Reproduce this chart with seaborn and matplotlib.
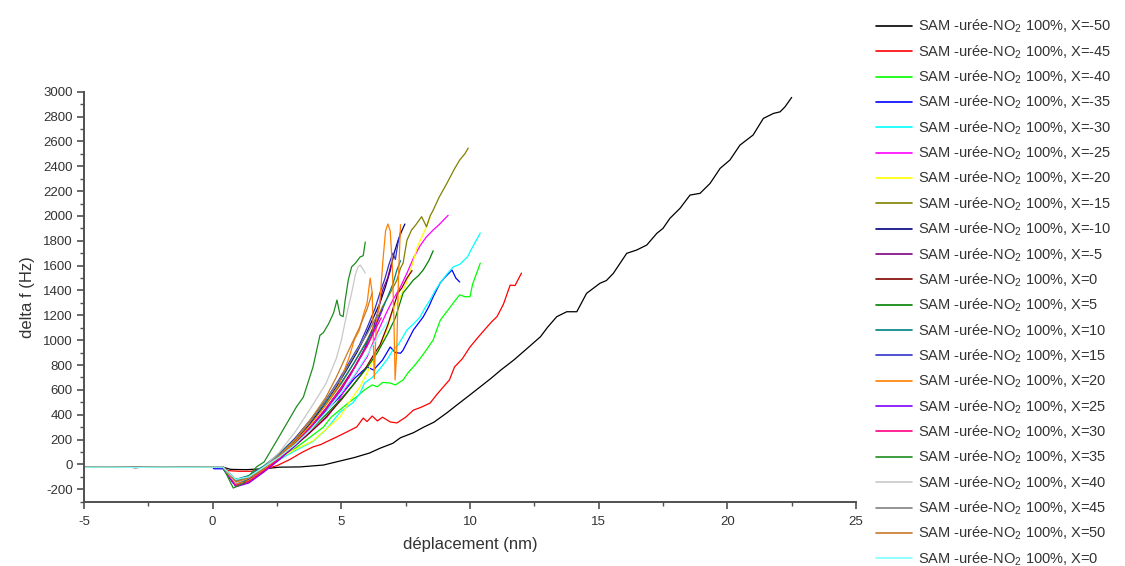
import matplotlib
matplotlib.use("Agg")
import matplotlib.pyplot as plt
from matplotlib.lines import Line2D
from matplotlib.ticker import MultipleLocator
import seaborn as sns
import pandas as pd

# ---------------- data ----------------
X_VALUES = ["-50", "-45", "-40", "-35", "-30", "-25", "-20", "-15", "-10", "-5", "0",
            "5", "10", "15", "20", "25", "30", "35", "40", "45", "50", "0"]
COLORS = ["#000000", "#ff0000", "#00ff00", "#0000ff", "#00ffff", "#ff00ff", "#ffff00",
          "#808000", "#000080", "#800080", "#800000", "#008000", "#008080", "#3131ce",
          "#ff8000", "#8000ff", "#ff0080", "#1e8c1e", "#c8c8c8", "#808080", "#c87828",
          "#80ffff"]

BASE_X = [-5.0, -4.0, -3.0, -2.0, -1.0, 0.0]
BASE_Y = [-23, -22, -24, -22, -23, -22]

X_M50 = [0.4, 0.7, 1.3, 2.0, 2.6, 3.4, 4.3, 4.8, 5.5, 6.1, 6.5, 7.0, 7.3, 7.8, 8.2, 8.6, 9.1,
         9.5, 10.0, 10.4, 10.8, 11.2, 11.7, 12.2, 12.74, 13.0, 13.37, 13.76, 14.15, 14.53,
         15.05, 15.3, 15.57, 16.09, 16.48, 16.87, 17.26, 17.5, 17.77, 18.16, 18.55, 18.94,
         19.33, 19.72, 20.1, 20.49, 21.0, 21.4, 21.79, 22.05, 22.24, 22.5]
Y_M50 = [-22, -40, -42, -35, -22, -20, -5, 20, 55, 92, 130, 170, 215, 255, 300, 340, 415,
         480, 560, 625, 690, 760, 840, 930, 1028, 1100, 1189, 1229, 1229, 1377,
         1458, 1480, 1538, 1699, 1726, 1766, 1860, 1900, 1981, 2061, 2168, 2182,
         2262, 2383, 2450, 2570, 2651, 2785, 2825, 2838, 2878, 2954]

X_M45 = [0.4, 0.6, 1.0, 1.5, 2.0, 2.5, 3.0, 3.5, 3.9, 4.2, 4.5, 4.83, 5.2, 5.6, 5.85, 6.0,
         6.2, 6.4, 6.6, 6.9, 7.16, 7.5, 7.8, 8.1, 8.45, 8.7, 8.96, 9.2, 9.4, 9.7, 10.0,
         10.3, 10.66, 10.85, 11.05, 11.3, 11.56, 11.75, 12.0]
Y_M45 = [-22, -50, -55, -55, -40, -10, 40, 100, 141, 160, 190, 222, 260, 302, 373, 345,
         390, 350, 380, 342, 334, 380, 437, 460, 494, 560, 623, 680, 785, 850, 945,
         1020, 1106, 1150, 1190, 1290, 1443, 1440, 1540]

X_M40 = [0.4, 0.8, 1.2, 1.8, 2.4, 3.0, 3.6, 4.3, 4.6, 4.95, 5.3, 5.6, 5.9, 6.2, 6.4, 6.6,
         6.9, 7.1, 7.4, 7.6, 7.8, 8.05, 8.3, 8.57, 8.7, 8.85, 9.1, 9.35, 9.6, 9.8, 10.0,
         10.1, 10.4]
Y_M40 = [-22, -120, -110, -50, 20, 100, 190, 300, 380, 440, 500, 545, 600, 640, 625, 660,
         655, 640, 680, 740, 785, 850, 920, 1002, 1080, 1163, 1230, 1300, 1365, 1350, 1350,
         1450, 1620]

X_M35 = [0.05, 0.4, 0.8, 1.2, 1.8, 2.4, 3.0, 3.5, 4.0, 4.5, 5.0, 5.5, 6.0, 6.25, 6.6, 6.9,
         7.1, 7.3, 7.4, 7.8, 8.18, 8.4, 8.57, 8.84, 9.0, 9.3, 9.45, 9.6]
Y_M35 = [-35, -35, -150, -130, -60, 20, 120, 230, 340, 450, 560, 690, 785, 760, 840, 945,
         900, 895, 920, 1082, 1187, 1270, 1350, 1460, 1500, 1565, 1500, 1468]

X_M30 = [0.4, 0.8, 1.3, 2.0, 2.6, 3.2, 3.9, 4.4, 4.95, 5.47, 5.73, 5.9, 6.2, 6.5, 6.8, 7.0,
         7.2, 7.55, 7.8, 8.06, 8.25, 8.45, 8.65, 8.84, 9.1, 9.35, 9.6, 9.9, 10.1, 10.4]
Y_M30 = [-22, -140, -120, -40, 40, 110, 185, 280, 420, 500, 575, 655, 700, 770, 850, 920,
         960, 1082, 1130, 1187, 1260, 1323, 1400, 1460, 1530, 1590, 1610, 1670, 1750, 1862]

X_M25 = [0.4, 0.9, 1.4, 2.0, 2.6, 3.2, 3.8, 4.45, 4.8, 5.2, 5.6, 6.0, 6.25, 6.5, 6.75, 7.0,
         7.3, 7.55, 7.8, 8.06, 8.3, 8.57, 8.8, 9.15]
Y_M25 = [-22, -160, -130, -50, 40, 150, 260, 382, 480, 625, 740, 865, 990, 1106, 1220, 1323,
         1430, 1540, 1660, 1760, 1830, 1887, 1930, 2005]

X_M20 = [0.4, 0.9, 1.4, 2.0, 2.6, 3.2, 3.9, 4.5, 4.95, 5.3, 5.73, 6.1, 6.5, 6.8, 7.0, 7.3,
         7.55, 7.8, 7.95, 8.15, 8.3, 8.45]
Y_M20 = [-22, -140, -110, -30, 50, 120, 190, 300, 382, 500, 625, 780, 945, 1100, 1240, 1350,
         1470, 1640, 1750, 1840, 1910, 1990]

X_M15 = [0.4, 0.9, 1.4, 2.0, 2.6, 3.2, 3.8, 4.4, 5.0, 5.5, 6.0, 6.3, 6.6, 6.9, 7.16, 7.3,
         7.4, 7.55, 7.73, 7.9, 8.12, 8.31, 8.45, 8.57, 8.8, 9.1, 9.4, 9.6, 9.8, 9.93]
Y_M15 = [-22, -150, -120, -40, 60, 190, 330, 480, 650, 820, 1000, 1130, 1270, 1380, 1484, 1580,
         1620, 1805, 1887, 1930, 1994, 1913, 2000, 2047, 2150, 2262, 2380, 2450, 2500, 2546]

X_M10 = [0.4, 0.9, 1.4, 2.0, 2.6, 3.2, 3.8, 4.3, 4.8, 5.2, 5.6, 5.9, 6.2, 6.5, 6.7, 6.9,
         7.05, 7.2, 7.35, 7.47]
Y_M10 = [-22, -170, -140, -50, 50, 180, 330, 470, 620, 760, 900, 1020, 1160, 1300, 1420, 1560,
         1700, 1800, 1880, 1935]

X_M05 = [0.4, 0.9, 1.4, 2.0, 2.6, 3.2, 3.8, 4.4, 5.0, 5.5, 5.9, 6.25, 6.45, 6.6, 6.8, 6.95]
Y_M05 = [-22, -130, -110, -30, 60, 170, 300, 450, 620, 780, 930, 1106, 1250, 1400, 1500, 1620]

X_P00 = [0.4, 0.9, 1.4, 2.0, 2.6, 3.2, 3.8, 4.4, 5.0, 5.5, 5.9, 6.25, 6.5, 6.8, 7.0, 7.2,
         7.35, 7.55, 7.75]
Y_P00 = [-22, -150, -130, -40, 50, 150, 260, 380, 520, 650, 760, 880, 960, 1120, 1250, 1380,
         1420, 1500, 1560]

X_P05 = [0.4, 0.9, 1.4, 2.0, 2.6, 3.2, 3.8, 4.4, 5.0, 5.5, 6.0, 6.4, 6.8, 7.1, 7.4, 7.8,
         8.0, 8.18, 8.4, 8.57]
Y_P05 = [-22, -140, -100, -20, 70, 170, 280, 400, 530, 650, 780, 900, 1050, 1180, 1380, 1484,
         1520, 1565, 1640, 1720]

X_P10 = [0.4, 0.9, 1.4, 2.0, 2.6, 3.2, 3.8, 4.4, 5.0, 5.5, 6.0, 6.4, 6.8, 7.0, 7.16, 7.3]
Y_P10 = [-22, -120, -90, -10, 90, 210, 350, 500, 660, 820, 990, 1150, 1350, 1450, 1565, 1640]

X_P15 = [0.4, 0.9, 1.4, 2.0, 2.6, 3.2, 3.8, 4.4, 4.9, 5.3, 5.7, 6.0, 6.3, 6.5, 6.7, 6.85,
         7.0, 7.1, 7.2, 7.3]
Y_P15 = [-22, -150, -120, -30, 80, 210, 360, 520, 680, 820, 960, 1100, 1250, 1380, 1500, 1610,
         1700, 1650, 1780, 1870]

X_P20 = [0.4, 0.9, 1.4, 2.0, 2.6, 3.2, 3.8, 4.4, 4.9, 5.3, 5.5, 5.7, 5.85, 6.0, 6.12, 6.2,
         6.28, 6.36, 6.5, 6.62, 6.72, 6.81, 6.9, 6.98, 7.04, 7.09, 7.15, 7.22, 7.3]
Y_P20 = [-22, -160, -130, -40, 60, 180, 320, 480, 640, 860, 1000, 1080, 1200, 1300, 1500, 1380,
         690, 1150, 1320, 1650, 1880, 1935, 1880, 1600, 1200, 680, 900, 1500, 1930]

X_P25 = [0.4, 0.9, 1.4, 2.0, 2.6, 3.2, 3.8, 4.4, 5.0, 5.4, 5.8, 6.1, 6.4, 6.6]
Y_P25 = [-22, -180, -150, -60, 40, 150, 290, 440, 600, 740, 880, 1000, 1150, 1250]

X_P30 = [0.4, 0.9, 1.4, 2.0, 2.6, 3.2, 3.8, 4.4, 4.9, 5.3, 5.7, 6.0, 6.3, 6.55]
Y_P30 = [-22, -170, -140, -50, 50, 160, 300, 450, 590, 700, 850, 950, 1080, 1180]

X_P35 = [0.4, 0.8, 1.2, 1.7, 2.0, 2.6, 3.26, 3.52, 3.9, 4.17, 4.3, 4.5, 4.7, 4.83, 4.95,
         5.07, 5.15, 5.27, 5.4, 5.55, 5.73, 5.85, 5.93]
Y_P35 = [-22, -190, -150, -20, 20, 230, 465, 540, 785, 1040, 1060, 1130, 1220, 1323, 1203,
         1190, 1323, 1484, 1590, 1620, 1670, 1680, 1790]

X_P40 = [0.4, 0.9, 1.4, 2.0, 2.6, 3.2, 3.8, 4.4, 4.8, 5.0, 5.2, 5.4, 5.55, 5.65, 5.73, 5.85,
         5.93]
Y_P40 = [-22, -150, -110, -20, 100, 260, 450, 650, 850, 1000, 1200, 1380, 1530, 1590, 1605,
         1570, 1540]

X_P45 = [0.4, 0.9, 1.4, 2.0, 2.6, 3.2, 3.8, 4.4, 5.0, 5.5, 6.0, 6.4]
Y_P45 = [-22, -130, -100, -20, 80, 200, 350, 520, 700, 880, 1050, 1200]

X_P50 = [0.4, 0.9, 1.4, 2.0, 2.6, 3.2, 3.8, 4.4, 4.8, 5.2, 5.47, 5.7, 6.0, 6.2]
Y_P50 = [-22, -140, -110, -30, 70, 200, 360, 540, 700, 880, 1000, 1100, 1250, 1380]

X_Q00 = [0.4, 0.9, 1.4, 2.0, 2.6, 3.2, 3.8, 4.4, 5.0, 5.5, 6.0, 6.4, 6.8]
Y_Q00 = [-22, -120, -100, -20, 60, 160, 280, 420, 580, 720, 880, 1020, 1150]

SERIES = [(X_M50, Y_M50), (X_M45, Y_M45), (X_M40, Y_M40), (X_M35, Y_M35), (X_M30, Y_M30),
          (X_M25, Y_M25), (X_M20, Y_M20), (X_M15, Y_M15), (X_M10, Y_M10), (X_M05, Y_M05),
          (X_P00, Y_P00), (X_P05, Y_P05), (X_P10, Y_P10), (X_P15, Y_P15), (X_P20, Y_P20),
          (X_P25, Y_P25), (X_P30, Y_P30), (X_P35, Y_P35), (X_P40, Y_P40), (X_P45, Y_P45),
          (X_P50, Y_P50), (X_Q00, Y_Q00)]

rows = []
for i, (xs, ys) in enumerate(SERIES):
    for x, y in zip(BASE_X + xs, BASE_Y + ys):
        rows.append({"sid": f"s{i:02d}", "x": x, "y": y})
df = pd.DataFrame(rows)
order = [f"s{i:02d}" for i in range(len(SERIES))]

# ---------------- plot ----------------
sns.set_theme(style="ticks")
plt.rcParams["font.family"] = ["Liberation Sans", "DejaVu Sans"]
plt.rcParams["mathtext.fontset"] = "custom"
plt.rcParams["mathtext.rm"] = "Liberation Sans"
plt.rcParams["mathtext.it"] = "Liberation Sans:italic"
plt.rcParams["mathtext.bf"] = "Liberation Sans:bold"
plt.rcParams["axes.unicode_minus"] = False

fig = plt.figure(figsize=(11.25, 5.66), dpi=100)
ax = fig.add_axes([84 / 1125, 1 - 501.7 / 566, (856 - 84) / 1125, (501.7 - 91.7) / 566])

sns.lineplot(data=df, x="x", y="y", hue="sid", hue_order=order, palette=COLORS,
             estimator=None, sort=False, legend=False, linewidth=0.9, ax=ax)

ax.set_xlim(-5, 25)
ax.set_ylim(-300, 3000)
ax.xaxis.set_major_locator(MultipleLocator(5))
ax.xaxis.set_minor_locator(MultipleLocator(2.5))
ax.yaxis.set_major_locator(MultipleLocator(200))
ax.yaxis.set_minor_locator(MultipleLocator(100))
ax.set_yticks(list(range(-200, 3001, 200)))

sns.despine(ax=ax)
for s in ("left", "bottom"):
    ax.spines[s].set_color("#505050")
    ax.spines[s].set_linewidth(1.4)
ax.tick_params(which="major", direction="out", length=5, width=1.2, color="#505050",
               labelsize=9.5, labelcolor="#333333", pad=3)
ax.tick_params(axis="x", which="major", pad=5)
ax.tick_params(which="minor", direction="out", length=3, width=1.0, color="#505050")

ax.set_xlabel("déplacement (nm)", fontsize=12, color="#333333", labelpad=7)
ax.set_ylabel("delta f (Hz)", fontsize=12, color="#333333", labelpad=6)

handles = [Line2D([], [], color=c, lw=1.2) for c in COLORS]
labels = [f"SAM -urée-NO$_2$ 100%, X={v}" for v in X_VALUES]
fig.legend(handles, labels, loc="upper left", bbox_to_anchor=(876 / 1125, 1 - 18 / 566),
           frameon=False, fontsize=10.5, handlelength=2.5, handletextpad=0.35,
           labelspacing=0.545, borderpad=0, borderaxespad=0, labelcolor="#333333")

fig.savefig("out.png", dpi=100, facecolor="white")
